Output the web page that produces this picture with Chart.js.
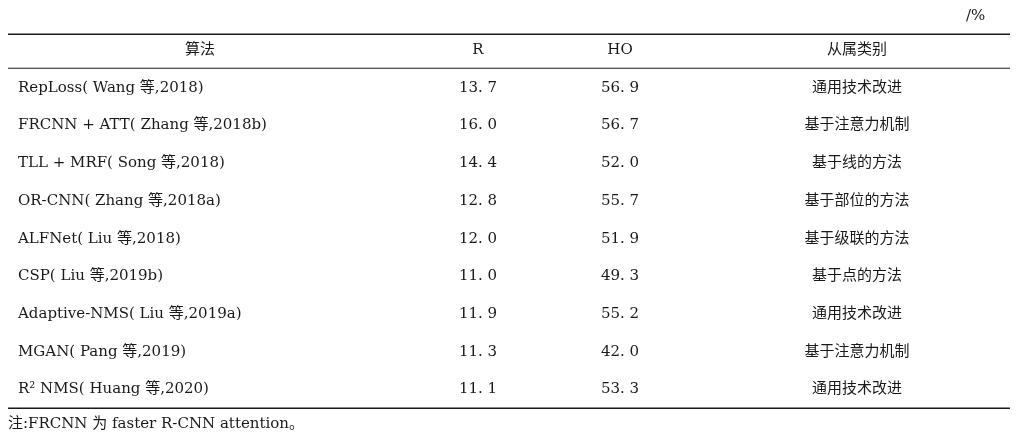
<!DOCTYPE html>
<html>
<head>
<meta charset="utf-8">
<script src="https://cdn.jsdelivr.net/npm/chart.js@4"></script>
<style>
  html, body { margin: 0; padding: 0; background: #fff; }
  #wrap { width: 1016px; height: 437px; }
</style>
</head>
<body>
<div id="wrap"><canvas id="c"></canvas></div>
<script>
const headers = ["算法", "R", "HO", "从属类别"];
const methods = [
  "RepLoss( Wang 等,2018)",
  "FRCNN + ATT( Zhang 等,2018b)",
  "TLL + MRF( Song 等,2018)",
  "OR-CNN( Zhang 等,2018a)",
  "ALFNet( Liu 等,2018)",
  "CSP( Liu 等,2019b)",
  "Adaptive-NMS( Liu 等,2019a)",
  "MGAN( Pang 等,2019)",
  "R² NMS( Huang 等,2020)"
];
const rValues = [13.7, 16.0, 14.4, 12.8, 12.0, 11.0, 11.9, 11.3, 11.1];
const hoValues = [56.9, 56.7, 52.0, 55.7, 51.9, 49.3, 55.2, 42.0, 53.3];
const categories = ["通用技术改进", "基于注意力机制", "基于线的方法", "基于部位的方法", "基于级联的方法",
  "基于点的方法", "通用技术改进", "基于注意力机制", "通用技术改进"];
const unitLabel = "/%";
const note = "注:FRCNN 为 faster R-CNN attention。";

const fmt = v => v.toFixed(1).replace(".", ". ");
const font = '15px "DejaVu Serif", "Noto Sans CJK SC", serif';

const tablePlugin = {
  id: "table",
  afterDraw(chart) {
    const ctx = chart.ctx, x = chart.scales.x, y = chart.scales.y;
    ctx.save();
    ctx.fillStyle = "#1a1a1a";
    ctx.strokeStyle = "#1a1a1a";
    ctx.font = font;
    ctx.textBaseline = "middle";
    const hline = (row, w) => {
      ctx.lineWidth = w;
      ctx.beginPath();
      ctx.moveTo(x.getPixelForValue(8), y.getPixelForValue(row));
      ctx.lineTo(x.getPixelForValue(1010), y.getPixelForValue(row));
      ctx.stroke();
    };
    hline(-0.42, 1.5);
    hline(0.48, 1);
    hline(9.5, 1.5);
    ctx.textAlign = "left";
    ctx.fillText(unitLabel, x.getPixelForValue(966), y.getPixelForValue(-0.9));
    ctx.fillText(note, x.getPixelForValue(8), y.getPixelForValue(9.92));
    const centers = [200, 478, 620, 857];
    ctx.textAlign = "center";
    headers.forEach((h, i) => ctx.fillText(h, x.getPixelForValue(centers[i]), y.getPixelForValue(0)));
    methods.forEach((m, i) => {
      const py = y.getPixelForValue(i + 1);
      ctx.textAlign = "left";
      ctx.fillText(m, x.getPixelForValue(18), py);
      ctx.textAlign = "center";
      ctx.fillText(fmt(rValues[i]), x.getPixelForValue(centers[1]), py);
      ctx.fillText(fmt(hoValues[i]), x.getPixelForValue(centers[2]), py);
      ctx.fillText(categories[i], x.getPixelForValue(centers[3]), py);
    });
    ctx.restore();
  }
};

new Chart(document.getElementById("c"), {
  type: "scatter",
  data: { datasets: [{ data: [], pointRadius: 0 }] },
  options: {
    responsive: true,
    maintainAspectRatio: false,
    animation: false,
    layout: { padding: 0 },
    plugins: { legend: { display: false }, tooltip: { enabled: false } },
    scales: {
      x: { type: "linear", min: 0, max: 1016, display: false },
      y: { type: "linear", min: -1.33, max: 10.26, reverse: true, display: false }
    }
  },
  plugins: [tablePlugin]
});
</script>
</body>
</html>
